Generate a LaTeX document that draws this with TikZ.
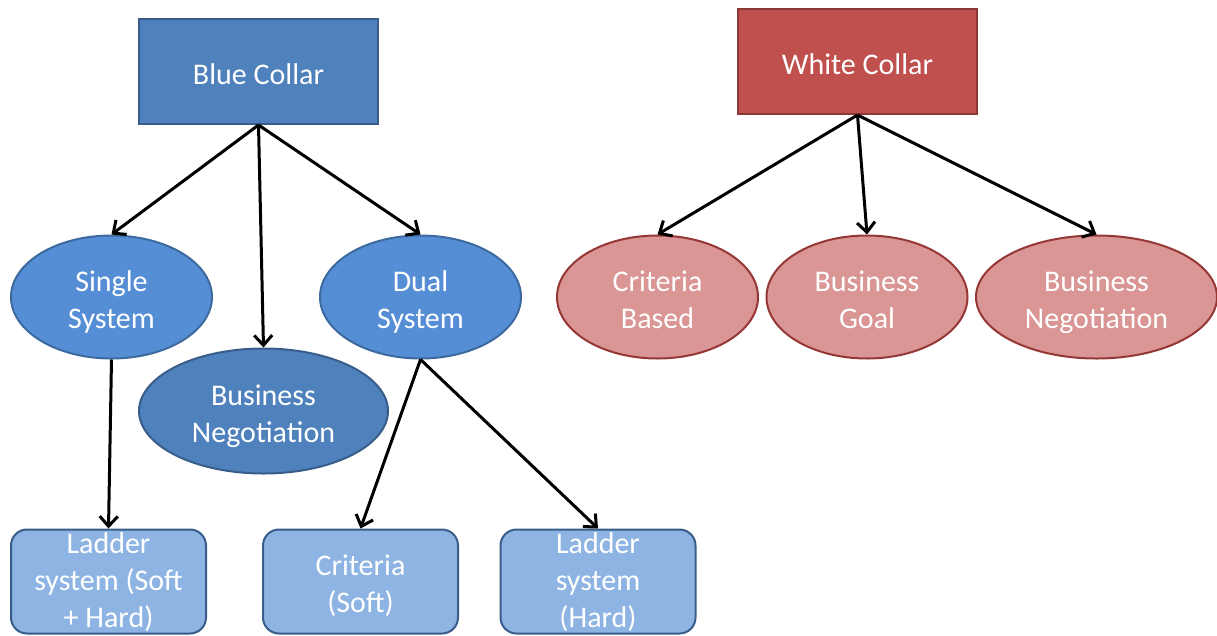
\documentclass[tikz,border=0pt]{standalone}
\usepackage{fontspec}
\setmainfont{Carlito}
\usetikzlibrary{shapes.geometric,arrows.meta}
\definecolor{bluetop}{HTML}{4F81BD}
\definecolor{bluebord}{HTML}{385D8A}
\definecolor{blueell}{HTML}{558ED5}
\definecolor{blueellbord}{HTML}{3C6A9E}
\definecolor{leafblue}{HTML}{8EB4E3}
\definecolor{redtop}{HTML}{C0504D}
\definecolor{redbord}{HTML}{8C3836}
\definecolor{redell}{HTML}{D99694}
\definecolor{redellbord}{HTML}{953735}
\newcommand\tops{\rule{0pt}{36pt}}
\newcommand\bots{\rule[-11pt]{0pt}{11pt}}
\begin{document}
\begin{tikzpicture}[x=1pt,y=-1pt,
  lbl/.style={text=white,font=\fontsize{30}{37}\selectfont,align=center,inner sep=0pt},
  topbox/.style={lbl,rectangle,minimum width=239pt,minimum height=105pt,line width=2pt},
  ell/.style={lbl,ellipse,line width=2pt,minimum height=123pt},
  leaf/.style={rectangle,inner sep=0pt,rounded corners=16pt,minimum width=195pt,minimum height=104pt,line width=2pt,draw=bluebord,fill=leafblue},
  arr/.style={line width=3pt,-{Straight Barb[length=10pt,width=18pt]}}]
\useasboundingbox (0,0) rectangle (1217,635);
% Blue side
\node[topbox,draw=bluebord,fill=bluetop] (bc) at (258.5,71.5) {\tops Blue Collar\bots};
\node[ell,minimum width=201pt,draw=blueellbord,fill=blueell] (ss) at (111.5,297) {\tops Single\\System\bots};
\node[ell,minimum width=249pt,minimum height=125pt,draw=bluebord,fill=bluetop] (bn) at (263.5,411) {\tops Business\\Negotiation\bots};
\node[ell,minimum width=201pt,draw=blueellbord,fill=blueell] (ds) at (420.5,297) {\tops Dual\\System\bots};
\node[leaf] (l1) at (108.5,581.5) {};
\node[lbl,yshift=4pt] (l1t) at (l1.center) {\tops Ladder\\system (Soft\\+ Hard)\bots};
\node[leaf] (l2) at (360.5,581.5) {};
\node[lbl] (l2t) at (l2.center) {\tops Criteria\\(Soft)\bots};
\node[leaf] (l3) at (598,581.5) {};
\node[lbl,yshift=4pt] (l3t) at (l3.center) {\tops Ladder\\system\\(Hard)\bots};
% Red side
\node[topbox,draw=redbord,fill=redtop] (wc) at (857.5,61.5) {\tops White Collar\bots};
\node[ell,minimum width=201pt,draw=redellbord,fill=redell] (cb) at (657.5,297) {\tops Criteria\\Based\bots};
\node[ell,minimum width=201pt,draw=redellbord,fill=redell] (bg) at (867,297) {\tops Business\\Goal\bots};
\node[ell,minimum width=241pt,draw=redellbord,fill=redell] (rn) at (1096.5,297) {\tops Business\\Negotiation\bots};
% Connectors
\draw[arr] (bc.south) -- (ss.north);
\draw[arr] (bc.south) -- (bn.north);
\draw[arr] (bc.south) -- (ds.north);
\draw[arr] (ss.south) -- (l1.north);
\draw[arr] (ds.south) -- (l2.north);
\draw[arr] (ds.south) -- (l3.north);
\draw[arr] (wc.south) -- (cb.north);
\draw[arr] (wc.south) -- (bg.north);
\draw[arr] (wc.south) -- (rn.north);
\end{tikzpicture}
\end{document}
